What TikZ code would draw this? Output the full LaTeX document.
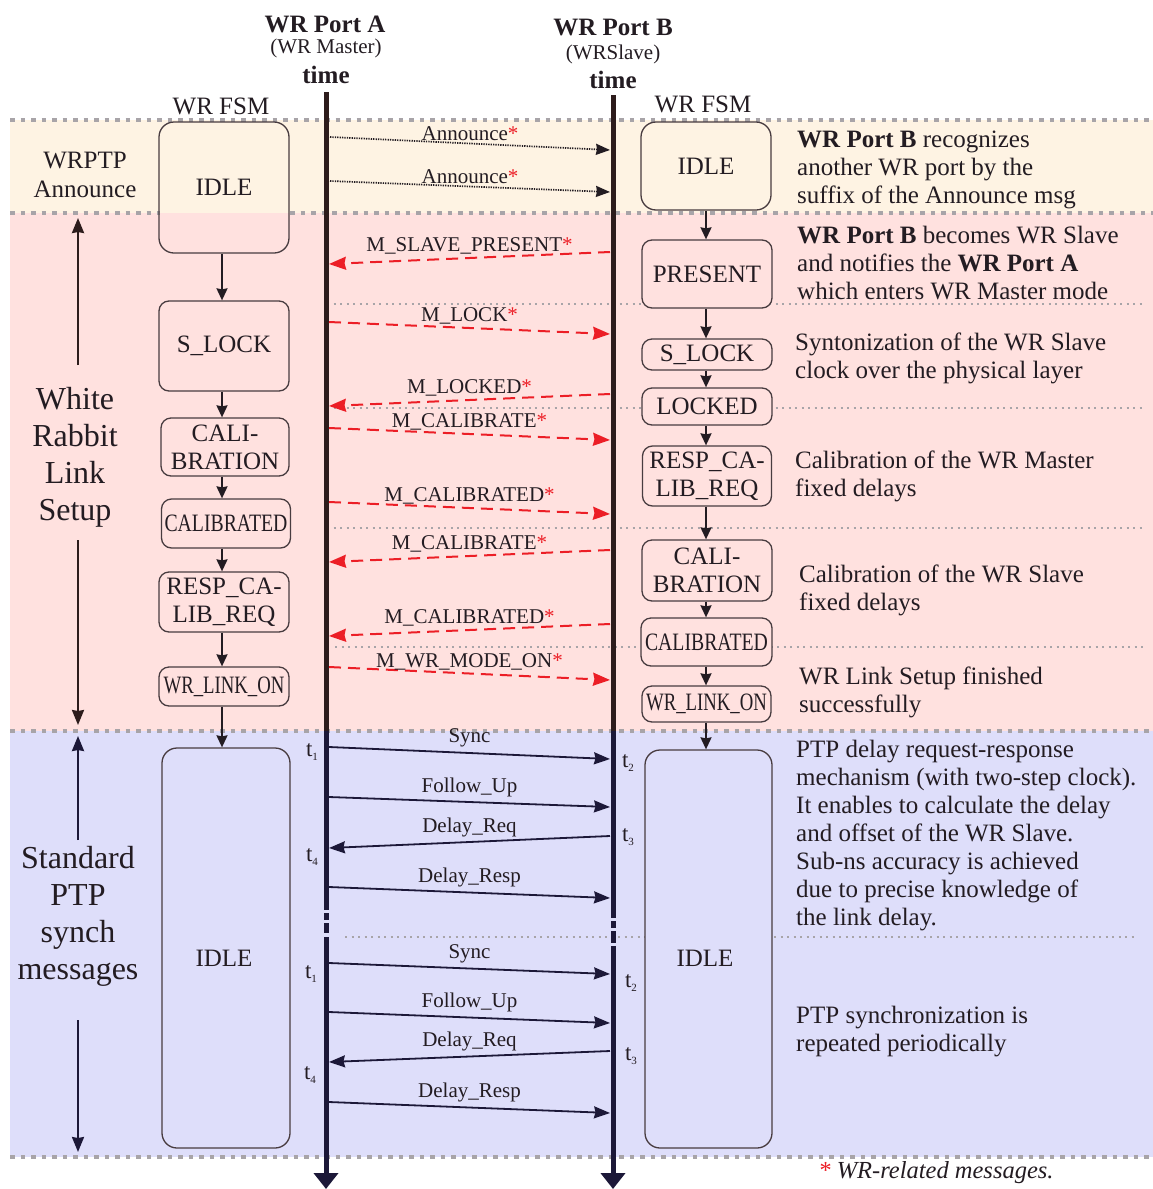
\documentclass[tikz,border=0pt]{standalone}
\usepackage{fontspec}
\setmainfont{Liberation Serif}
\usetikzlibrary{arrows.meta}

\definecolor{bgann}{RGB}{254,243,227}
\definecolor{bgwr}{RGB}{255,225,223}
\definecolor{bgptp}{RGB}{222,222,250}
\definecolor{ink}{RGB}{35,28,34}
\definecolor{lifeA}{RGB}{45,28,28}
\definecolor{lifeB}{RGB}{28,24,56}
\definecolor{wrred}{RGB}{236,30,38}
\definecolor{sepgray}{RGB}{168,164,168}
\definecolor{boxline}{RGB}{72,60,64}

\newcommand\fsmfont{\fontsize{25}{28}\selectfont}
\newcommand\msgfont{\fontsize{21}{24}\selectfont}
\newcommand\notefont{\fontsize{25}{28}\selectfont}
\newcommand\phasefont{\fontsize{32}{37}\selectfont}
\newcommand\headfont{\fontsize{25}{28}\selectfont\bfseries}
\newcommand\subfont{\fontsize{21}{24}\selectfont}
\newcommand\wrstar{\textcolor{wrred}{*}}
\newcommand\tstamp[1]{t\raisebox{-0.4ex}{\fontsize{11}{11}\selectfont #1}}

\begin{document}
\begin{tikzpicture}[x=1pt,y=-1pt,
  every node/.style={inner sep=0pt, text=ink},
  bandsep/.style={sepgray, line width=4.5pt, dash pattern=on 4.5pt off 6pt},
  phasesep/.style={sepgray, line width=1.3pt, dash pattern=on 2pt off 4.5pt},
  fsm/.style={draw=boxline, line width=1.3pt, rounded corners=10pt, font=\fsmfont, align=center},
  bigfsm/.style={fsm, rounded corners=15pt},
  fsmarrow/.style={ink, line width=1.8pt, -{Stealth[length=12pt,width=11pt,inset=1pt]}},
  lifeline/.style={line width=5pt},
  lifeend/.style={lifeline, -{Triangle[length=16pt 0,width=24pt 0]}},
  annmsg/.style={ink, line width=1.7pt, dash pattern=on 1.3pt off 1.1pt, -{Stealth[length=14pt,width=11pt,inset=1pt]}},
  wrmsg/.style={wrred, line width=2pt, dash pattern=on 12pt off 7pt, -{Stealth[length=17pt,width=13pt,inset=1.5pt]}},
  ptpmsg/.style={lifeB, line width=1.8pt, -{Stealth[length=16pt,width=12pt,inset=1.5pt]}},
  msglbl/.style={font=\msgfont},
  note/.style={font=\notefont, align=left, anchor=west},
  phase/.style={font=\phasefont, align=center},
  phasearrow/.style={line width=2.2pt, -{Stealth[length=15pt,width=12pt,inset=1pt]}},
  tlbl/.style={font=\fontsize{23}{26}\selectfont}
]
\useasboundingbox (0,0) rectangle (1153,1189);

% phase bands
\fill[bgann] (10,120) rectangle (1153,213);
\fill[bgwr]  (10,213) rectangle (1153,731);
\fill[bgptp] (10,731) rectangle (1153,1157);

% thin separators between message exchanges
\draw[phasesep] (327,304) -- (1143,304);
\draw[phasesep] (327,408) -- (1143,408);
\draw[phasesep] (327,528) -- (1143,528);
\draw[phasesep] (335,647) -- (1143,647);
\draw[phasesep] (345,937) -- (1135,937);

% band borders
\draw[bandsep] (10,120) -- (1153,120);
\draw[bandsep] (10,213) -- (160,213);
\draw[bandsep] (290,213) -- (1153,213);
\draw[bandsep] (10,731) -- (1153,731);
\draw[bandsep] (10,1157) -- (1153,1157);

% column headers
\node[font=\headfont] (pA) at (325,24) {WR Port A};
\node[font=\subfont] (pAr) at (326,48) {(WR Master)};
\node[font=\headfont] (pAt) at (326,75) {time};
\node[font=\headfont] (pB) at (613,28) {WR Port B};
\node[font=\subfont] (pBr) at (613,54) {(WRSlave)};
\node[font=\headfont] (pBt) at (613,80) {time};
\node[font=\fsmfont] (fsmA) at (221,106) {WR FSM};
\node[font=\fsmfont] (fsmB) at (703,104) {WR FSM};

% WR FSM of port A
\node[bigfsm, minimum width=130pt, minimum height=131pt] (aIdle) at (224,187.5) {IDLE};
\node[fsm, fill=bgwr, minimum width=130pt, minimum height=90pt] (aSlock) at (224,346) {S\_LOCK};
\node[fsm, fill=bgwr, minimum width=128pt, minimum height=58pt] (aCali) at (225,447) {CALI-\\BRATION};
\node[fsm, fill=bgwr, minimum width=129pt, minimum height=49pt] (aCalid) at (226,523.5) {\scalebox{0.79}[1]{CALIBRATED}};
\node[fsm, fill=bgwr, minimum width=130pt, minimum height=60pt] (aResp) at (224,602) {RESP\_CA-\\LIB\_REQ};
\node[fsm, fill=bgwr, minimum width=130pt, minimum height=39pt] (aLink) at (224,686.5) {\scalebox{0.75}[1]{WR\_LINK\_ON}};
\node[bigfsm, fill=bgptp, minimum width=128pt, minimum height=400pt] (aIdleB) at (226,948) {};
\node[font=\fsmfont] (aIdleBt) at (224,958) {IDLE};

\draw[fsmarrow] (aIdle.south -| 222,0) -- (aSlock.north -| 222,0);
\draw[fsmarrow] (aSlock.south -| 222,0) -- (aCali.north -| 222,0);
\draw[fsmarrow] (aCali.south -| 222,0) -- (aCalid.north -| 222,0);
\draw[fsmarrow] (aCalid.south -| 222,0) -- (aResp.north -| 222,0);
\draw[fsmarrow] (aResp.south -| 222,0) -- (aLink.north -| 222,0);
\draw[fsmarrow] (aLink.south -| 222,0) -- (aIdleB.north -| 222,0);

% WR FSM of port B
\node[bigfsm, fill=bgann, minimum width=130pt, minimum height=88pt] (bIdle) at (706,166) {IDLE};
\node[fsm, fill=bgwr, minimum width=130pt, minimum height=68pt] (bPres) at (707,274) {PRESENT};
\node[fsm, fill=bgwr, minimum width=130pt, minimum height=31pt] (bSlock) at (707,354.5) {S\_LOCK};
\node[fsm, fill=bgwr, minimum width=130pt, minimum height=37pt] (bLocked) at (707,406.5) {LOCKED};
\node[fsm, fill=bgwr, minimum width=129pt, minimum height=60pt] (bResp) at (707,476) {RESP\_CA-\\LIB\_REQ};
\node[fsm, fill=bgwr, minimum width=130pt, minimum height=61pt] (bCali) at (707,570.5) {CALI-\\BRATION};
\node[fsm, fill=bgwr, minimum width=131pt, minimum height=48pt] (bCalid) at (706.5,642) {\scalebox{0.79}[1]{CALIBRATED}};
\node[fsm, fill=bgwr, minimum width=129pt, minimum height=36pt] (bLink) at (706.5,704) {\scalebox{0.75}[1]{WR\_LINK\_ON}};
\node[bigfsm, fill=bgptp, minimum width=127pt, minimum height=398pt] (bIdleB) at (708.5,949) {};
\node[font=\fsmfont] (bIdleBt) at (705,958) {IDLE};

\draw[fsmarrow] (bIdle.south -| 706,0) -- (bPres.north -| 706,0);
\draw[fsmarrow] (bPres.south -| 706,0) -- (bSlock.north -| 706,0);
\draw[fsmarrow] (bSlock.south -| 706,0) -- (bLocked.north -| 706,0);
\draw[fsmarrow] (bLocked.south -| 706,0) -- (bResp.north -| 706,0);
\draw[fsmarrow] (bResp.south -| 706,0) -- (bCali.north -| 706,0);
\draw[fsmarrow] (bCali.south -| 706,0) -- (bCalid.north -| 706,0);
\draw[fsmarrow] (bCalid.south -| 706,0) -- (bLink.north -| 706,0);
\draw[fsmarrow] (bLink.south -| 706,0) -- (bIdleB.north -| 706,0);

% time lines of both ports (with a break between synchronization rounds)
\draw[lifeline, lifeA] (326,92) -- (326,731);
\draw[lifeline, lifeB] (326,731) -- (326,910);
\draw[lifeline, lifeB] (326,913) -- (326,920);
\draw[lifeline, lifeB] (326,923) -- (326,933);
\draw[lifeend, lifeB] (326,937) -- (326,1189);
\draw[lifeline, lifeA] (613,95) -- (613,731);
\draw[lifeline, lifeB] (613,731) -- (613,918);
\draw[lifeline, lifeB] (613,921) -- (613,928);
\draw[lifeline, lifeB] (613,931) -- (613,943);
\draw[lifeend, lifeB] (613,946) -- (613,1189);

% WRPTP announce messages
\foreach \n/\xs/\ys/\xe/\ye in {an1/330/137/610/150, an2/330/181/610/192}{
  \coordinate (\n-s) at (\xs,\ys);
  \coordinate (\n-e) at (\xe,\ye);
  \draw[annmsg] (\n-s) -- node[msglbl, yshift=10pt] (\n-l) {Announce\wrstar} (\n-e);
}

% WR link setup messages
\foreach \n/\xs/\ys/\xe/\ye/\txt in {
  sp/610/252/329/264/{M\_SLAVE\_PRESENT},
  lk/329/322/610/334/{M\_LOCK},
  ld/610/394/329/406/{M\_LOCKED},
  cb/329/428/610/440/{M\_CALIBRATE},
  cd/329/502/610/514/{M\_CALIBRATED},
  cbb/610/550/329/562/{M\_CALIBRATE},
  cdb/610/624/329/636/{M\_CALIBRATED},
  wm/329/667/610/680/{M\_WR\_MODE\_ON}}{
  \coordinate (\n-s) at (\xs,\ys);
  \coordinate (\n-e) at (\xe,\ye);
  \draw[wrmsg] (\n-s) -- node[msglbl, yshift=12pt] (\n-l) {\txt\wrstar} (\n-e);
}

% PTP synchronization messages
\foreach \n/\xs/\ys/\xe/\ye/\txt in {
  sy1/329/747/610/759/{Sync},
  fu1/329/797/610/807/{Follow\_Up},
  dq1/610/836/329/848/{Delay\_Req},
  dr1/329/887/610/898/{Delay\_Resp},
  sy2/329/963/610/974/{Sync},
  fu2/329/1012/610/1023/{Follow\_Up},
  dq2/610/1051/329/1062/{Delay\_Req},
  dr2/329/1102/610/1113/{Delay\_Resp}}{
  \coordinate (\n-s) at (\xs,\ys);
  \coordinate (\n-e) at (\xe,\ye);
  \draw[ptpmsg] (\n-s) -- node[msglbl, yshift=15pt] (\n-l) {\txt} (\n-e);
}

% timestamps
\node[tlbl] (t1a) at (312,752) {\tstamp{1}};
\node[tlbl] (t2a) at (628,763) {\tstamp{2}};
\node[tlbl] (t3a) at (628,837) {\tstamp{3}};
\node[tlbl] (t4a) at (312,857) {\tstamp{4}};
\node[tlbl] (t1b) at (311,974) {\tstamp{1}};
\node[tlbl] (t2b) at (631,983) {\tstamp{2}};
\node[tlbl] (t3b) at (631,1056) {\tstamp{3}};
\node[tlbl] (t4b) at (310,1075) {\tstamp{4}};

% phase names on the left
\node[font=\fsmfont, align=center] (annName) at (85,175) {WRPTP\\[1pt]Announce};
\node[phase] (wrName) at (75,457) {White\\Rabbit\\Link\\Setup};
\coordinate (wrUp1) at (78,365);
\coordinate (wrUp2) at (78,218);
\coordinate (wrDn1) at (78,540);
\coordinate (wrDn2) at (78,725);
\draw[phasearrow, lifeA] (wrUp1) -- (wrUp2);
\draw[phasearrow, lifeA] (wrDn1) -- (wrDn2);
\node[phase] (ptpName) at (78,916) {Standard\\PTP\\synch\\messages};
\coordinate (ptUp1) at (78,840);
\coordinate (ptUp2) at (78,736);
\coordinate (ptDn1) at (78,1020);
\coordinate (ptDn2) at (78,1152);
\draw[phasearrow, lifeB] (ptUp1) -- (ptUp2);
\draw[phasearrow, lifeB] (ptDn1) -- (ptDn2);

% explanations on the right
\node[note] (n1) at (797,170) {\textbf{WR Port B} recognizes\\another WR port by the\\suffix of the Announce msg};
\node[note] (n2) at (797,263) {\textbf{WR Port B} becomes WR Slave\\and notifies the \textbf{WR Port A}\\which enters WR Master mode};
\node[note] (n3) at (795,358) {Syntonization of the WR Slave\\clock over the physical layer};
\node[note] (n4) at (795,476) {Calibration of the WR Master\\fixed delays};
\node[note] (n5) at (799,590) {Calibration of the WR Slave\\fixed delays};
\node[note] (n6) at (799,692) {WR Link Setup finished\\successfully};
\node[note] (n7) at (796,836) {PTP delay request-response\\mechanism (with two-step clock).\\It enables to calculate the delay\\and offset of the WR Slave.\\Sub-ns accuracy is achieved\\due to precise knowledge of\\the link delay.};
\node[note] (n8) at (796,1032) {PTP synchronization is\\repeated periodically};

% footnote
\node[font=\fontsize{24.5}{28}\selectfont\itshape] (foot) at (936,1173) {\wrstar\ WR-related messages.};
\end{tikzpicture}
\end{document}
